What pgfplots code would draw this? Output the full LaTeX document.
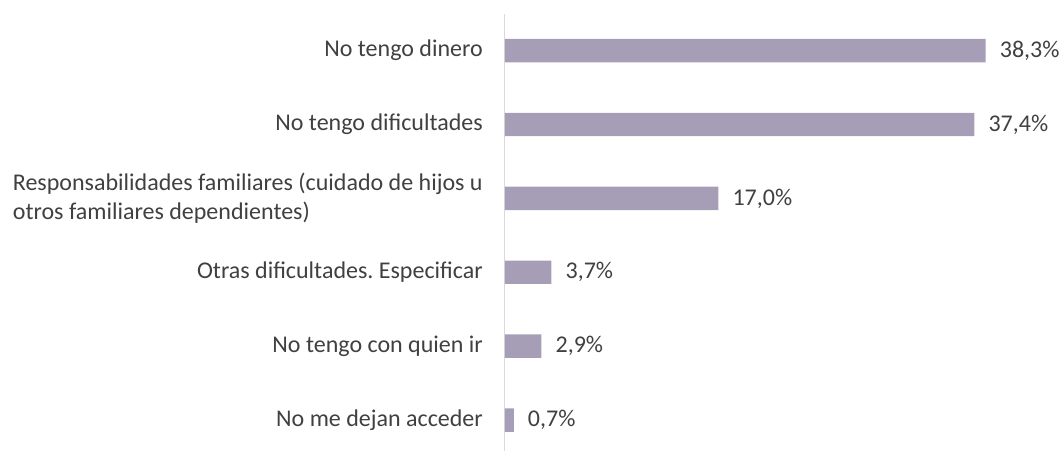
\documentclass[border=0pt]{standalone}
\usepackage{pgfplots}
\pgfplotsset{compat=1.18}
\usepackage{fontspec}
\setmainfont{Carlito}
\frenchspacing
\definecolor{barcol}{RGB}{166,158,182}
\definecolor{txt}{RGB}{64,64,64}
\definecolor{axgray}{RGB}{217,217,217}
\begin{document}
\begin{tikzpicture}[x=1pt,y=1pt]
\useasboundingbox (-505,7) rectangle (559,457);
\begin{axis}[
  at={(0,0)}, anchor=south west,
  scale only axis, width=502pt, height=443.4pt,
  xbar, bar width=23.4pt,
  xmin=0, xmax=40,
  ymin=-0.5, ymax=5.5, y dir=reverse,
  ytick={0,...,5},
  yticklabels={No tengo dinero,
    No tengo dificultades,
    {Responsabilidades familiares (cuidado de hijos u\\otros familiares dependientes)},
    {Otras dificultades.\ Especificar},
    No tengo con quien ir,
    No me dejan acceder},
  hide x axis,
  axis y line=left,
  y axis line style={draw=axgray, line width=1pt, -},
  major tick length=0pt,
  yticklabel style={align=left, font=\fontsize{24}{29.3}\selectfont, text=txt, inner sep=0pt, xshift=-22pt},
  /pgf/number format/use comma,
  /pgf/number format/fixed,
  /pgf/number format/fixed zerofill,
  /pgf/number format/precision=1,
  /pgf/number format/assume math mode=true,
  point meta=x,
  nodes near coords={\pgfmathprintnumber{\pgfplotspointmeta}\%},
  nodes near coords style={font=\fontsize{24}{29.3}\selectfont, text=txt, anchor=west, inner sep=0pt, xshift=14pt},
  clip=false,
]
\addplot[fill=barcol, draw=none] coordinates {
(38.3,0)
(37.4,1)
(17.0,2)
(3.7,3)
(2.9,4)
(0.7,5)
};
\end{axis}
\end{tikzpicture}
\end{document}
